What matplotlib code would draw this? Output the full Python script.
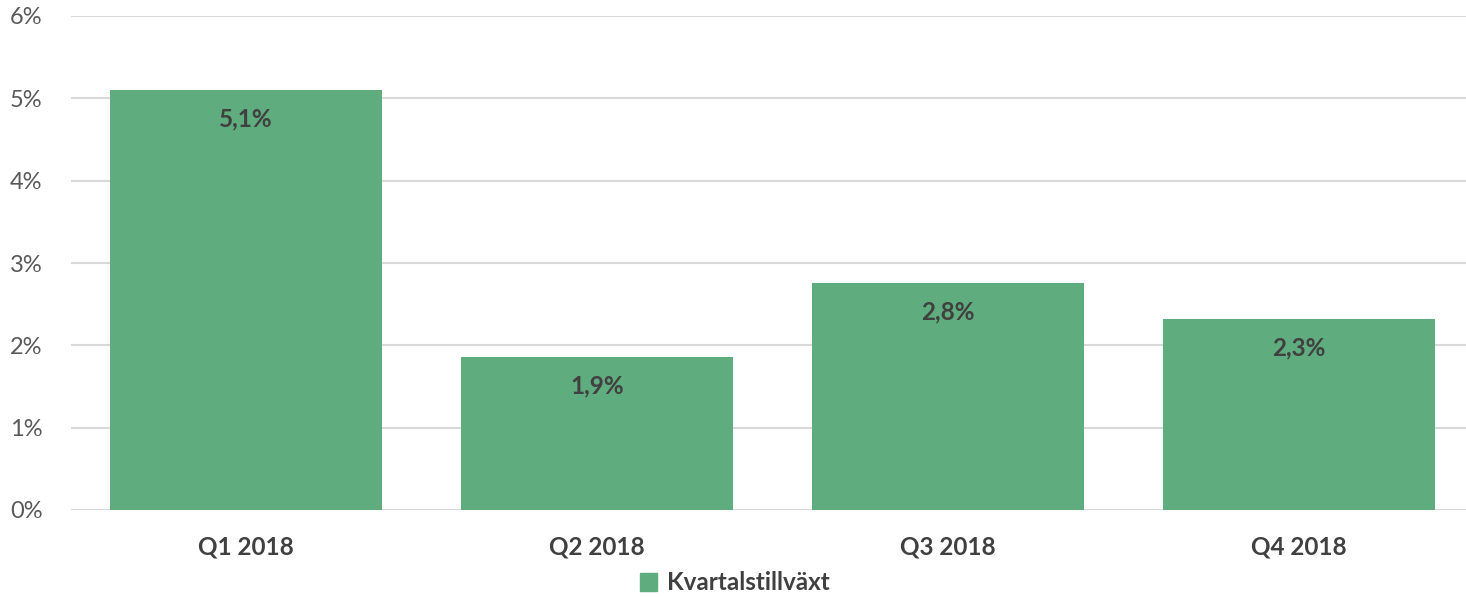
import matplotlib
matplotlib.use("Agg")
import matplotlib.pyplot as plt
from matplotlib.patches import Patch

plt.rcParams["font.family"] = ["Lato", "DejaVu Sans"]

categories = ["Q1 2018", "Q2 2018", "Q3 2018", "Q4 2018"]
values = [5.10, 1.86, 2.76, 2.32]
value_labels = ["5,1%", "1,9%", "2,8%", "2,3%"]
y_ticks = [0, 1, 2, 3, 4, 5, 6]
series_name = "Kvartalstillväxt"

bar_color = "#5fad7e"
text_color = "#404040"

W, H = 1466, 597
fig = plt.figure(figsize=(W / 100, H / 100), dpi=100)
ax = fig.add_axes([70.5 / W, (H - 510) / H, (1474.5 - 70.5) / W, (510 - 16) / H])

x = range(len(categories))
bars = ax.bar(x, values, width=0.775, color=bar_color, zorder=2)

for rect, lab in zip(bars, value_labels):
    ax.annotate(lab, (rect.get_x() + rect.get_width() / 2, rect.get_height()),
                xytext=(0, -29), textcoords="offset pixels", ha="center", va="center",
                fontsize=17.5, fontweight="bold", color=text_color)

ax.set_xlim(-0.5, len(categories) - 0.5)
ax.set_ylim(0, 6)
ax.set_yticks(y_ticks)
ax.set_yticklabels([f"{t}%" for t in y_ticks], fontsize=17, color="#595959")
ax.set_xticks(list(x))
ax.set_xticklabels(categories, fontsize=17.5, fontweight="bold", color=text_color)
ax.tick_params(axis="both", length=0)
ax.tick_params(axis="x", pad=18)
ax.tick_params(axis="y", pad=20)
ax.grid(axis="y", color="#d9d9d9", linewidth=1.5, zorder=0)
for s in ax.spines.values():
    s.set_visible(False)

fig.legend(handles=[Patch(color=bar_color, label=series_name)], loc="center",
           bbox_to_anchor=(735 / W, (H - 583) / H), frameon=False,
           prop={"size": 17.5, "weight": "bold"}, labelcolor=text_color,
           handlelength=0.7, handleheight=0.7, handletextpad=0.4)

fig.savefig("out.png", dpi=100)
